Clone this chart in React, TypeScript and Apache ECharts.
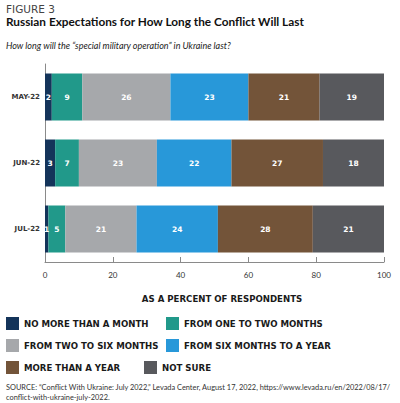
import React, { useEffect, useRef } from "react";
import * as echarts from "echarts";

const categories = ["MAY-22", "JUN-22", "JUL-22"];
const seriesNames = [
  "NO MORE THAN A MONTH",
  "FROM ONE TO TWO MONTHS",
  "FROM TWO TO SIX MONTHS",
  "FROM SIX MONTHS TO A YEAR",
  "MORE THAN A YEAR",
  "NOT SURE",
];
const noMoreThanMonth = [2, 3, 1];
const oneToTwoMonths = [9, 7, 5];
const twoToSixMonths = [26, 23, 21];
const sixMonthsToYear = [23, 22, 24];
const moreThanYear = [21, 27, 28];
const notSure = [19, 18, 21];
const seriesValues = [noMoreThanMonth, oneToTwoMonths, twoToSixMonths, sixMonthsToYear, moreThanYear, notSure];
const colors = ["#14345a", "#21998a", "#a6a8ab", "#2898d9", "#735439", "#58595d"];
const xTicks = [0, 20, 40, 60, 80, 100];

const legendPos = [
  { left: 6, top: 317 },
  { left: 166, top: 317 },
  { left: 6, top: 339 },
  { left: 166, top: 339 },
  { left: 6, top: 361 },
  { left: 144, top: 361 },
];

export default function App() {
  const ref = useRef<HTMLDivElement>(null);
  useEffect(() => {
    const chart = echarts.init(ref.current!, null, { renderer: "svg" });
    const font = "Lato, 'Noto Sans', sans-serif";
    const wide = "'DejaVu Sans', sans-serif";
    chart.setOption({
      animation: false,
      textStyle: { fontFamily: font },
      grid: { left: 45, right: 16, top: 64, height: 198, containLabel: false },
      xAxis: {
        type: "value",
        min: xTicks[0],
        max: xTicks[xTicks.length - 1],
        interval: 20,
        axisLine: { show: true, lineStyle: { color: "#8a8a8a", width: 1 } },
        axisTick: { show: true, inside: true, length: 5, lineStyle: { color: "#8a8a8a" } },
        splitLine: { show: false },
        axisLabel: { color: "#333", fontSize: 8, margin: 9, fontFamily: font },
        name: "AS A PERCENT OF RESPONDENTS",
        nameLocation: "middle",
        nameGap: 32,
        nameTextStyle: { color: "#1a1a1a", fontSize: 8.6, fontWeight: "bold", fontFamily: wide, padding: [0, 0, 0, 15] },
      },
      yAxis: {
        type: "category",
        data: categories,
        inverse: true,
        axisLine: { show: true, lineStyle: { color: "#8a8a8a" } },
        axisTick: { show: false },
        axisLabel: { color: "#333", fontSize: 7, fontWeight: "bold", margin: 5, fontFamily: wide },
      },
      legend: seriesNames.map((n, i) => ({
        data: [n],
        left: legendPos[i].left,
        top: legendPos[i].top,
        padding: 0,
        icon: "rect",
        itemWidth: 13,
        itemHeight: 13,
        itemGap: 0,
        selectedMode: false,
        textStyle: { color: "#1a1a1a", fontSize: 8.6, fontWeight: "bold", fontFamily: wide },
      })),
      title: [
        { text: "FIGURE 3", left: 6, top: 3, padding: 0, textStyle: { fontSize: 10.5, fontWeight: "normal", color: "#444", fontFamily: wide } },
        { text: "Russian Expectations for How Long the Conflict Will Last", left: 6, top: 15, padding: 0, textStyle: { fontSize: 11.8, fontWeight: "bold", color: "#111", fontFamily: font } },
        { text: "How long will the \u201cspecial military operation\u201d in Ukraine last?", left: 6, top: 41, padding: 0, textStyle: { fontSize: 9, fontStyle: "italic", fontWeight: "normal", color: "#222", fontFamily: font } },
        { text: "SOURCE: \u201cConflict With Ukraine: July 2022,\u201d Levada Center, August 17, 2022, https://www.levada.ru/en/2022/08/17/\nconflict-with-ukraine-july-2022.", left: 6, top: 382, padding: 0, textStyle: { fontSize: 7.4, fontWeight: "normal", color: "#333", lineHeight: 10, fontFamily: font } },
      ],
      series: seriesNames.map((n, i) => ({
        name: n,
        type: "bar",
        stack: "total",
        barWidth: 47,
        data: seriesValues[i],
        itemStyle: { color: colors[i] },
        label: { show: true, position: "inside", color: "#fff", fontSize: 7.5, fontWeight: "bold", fontFamily: wide },
      })),
    });
    return () => chart.dispose();
  }, []);
  return <div ref={ref} style={{ width: 400, height: 403, position: "absolute", left: 0, top: 0 }} />;
}
